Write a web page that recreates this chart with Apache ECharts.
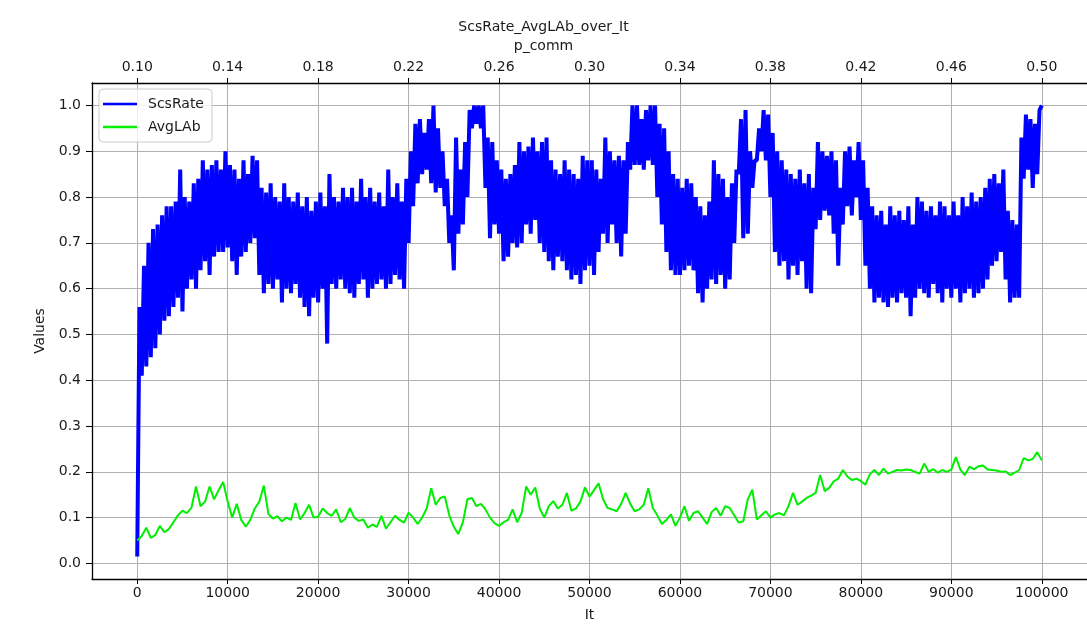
<!DOCTYPE html>
<html>
<head>
<meta charset="utf-8">
<script src="https://cdn.jsdelivr.net/npm/echarts@6/dist/echarts.min.js"></script>
<style>
html,body{margin:0;padding:0;background:#fff;}
#c{width:1087px;height:627px;}
</style>
</head>
<body>
<div id="c"></div>
<script>
// Sampling step of the series along "It"
const STEP = 500;

// ScsRate is very noisy: its lower envelope is read every 500 iterations (It 0 .. 100000)
// and its upper envelope half-way between (It 250 .. 99750); the line alternates between them.
const scsRateLow = [
  0.015, 0.41, 0.43, 0.45, 0.47, 0.50, 0.53, 0.54, 0.56, 0.58, 0.55, 0.60, 0.62, 0.60, 0.64, 0.66, 0.63, 0.67, 0.68, 0.68,
  0.69, 0.66, 0.63, 0.67, 0.68, 0.70, 0.71, 0.63, 0.59, 0.61, 0.60, 0.62, 0.57, 0.60, 0.59, 0.61, 0.58, 0.56, 0.54, 0.58,
  0.57, 0.60, 0.48, 0.61, 0.60, 0.62, 0.60, 0.59, 0.58, 0.61, 0.62, 0.58, 0.60, 0.61, 0.62, 0.60, 0.61, 0.63, 0.62, 0.60,
  0.70, 0.78, 0.83, 0.85, 0.86, 0.83, 0.81, 0.82, 0.78, 0.70, 0.64, 0.72, 0.74, 0.80, 0.95, 0.96, 0.95, 0.82, 0.71, 0.74,
  0.72, 0.66, 0.67, 0.70, 0.69, 0.70, 0.74, 0.72, 0.75, 0.70, 0.68, 0.66, 0.64, 0.67, 0.66, 0.64, 0.62, 0.63, 0.61, 0.64,
  0.65, 0.63, 0.68, 0.72, 0.70, 0.74, 0.70, 0.67, 0.72, 0.86, 0.87, 0.87, 0.86, 0.88, 0.87, 0.80, 0.74, 0.68, 0.64, 0.63,
  0.63, 0.64, 0.65, 0.64, 0.59, 0.57, 0.60, 0.62, 0.61, 0.63, 0.60, 0.62, 0.70, 0.85, 0.71, 0.72, 0.82, 0.88, 0.90, 0.88,
  0.80, 0.68, 0.65, 0.66, 0.62, 0.65, 0.63, 0.66, 0.60, 0.59, 0.73, 0.75, 0.77, 0.76, 0.72, 0.65, 0.74, 0.78, 0.76, 0.80,
  0.75, 0.65, 0.60, 0.57, 0.58, 0.57, 0.56, 0.58, 0.57, 0.59, 0.58, 0.54, 0.58, 0.60, 0.59, 0.58, 0.61, 0.59, 0.57, 0.60,
  0.58, 0.60, 0.57, 0.59, 0.60, 0.58, 0.59, 0.60, 0.62, 0.65, 0.66, 0.68, 0.62, 0.57, 0.58, 0.58, 0.84, 0.86, 0.82, 0.85,
  1.00
];
const scsRateHigh = [
  0.56, 0.65, 0.70, 0.73, 0.74, 0.76, 0.78, 0.78, 0.79, 0.86, 0.80, 0.79, 0.83, 0.84, 0.88, 0.86, 0.87, 0.88, 0.86, 0.90,
  0.87, 0.86, 0.84, 0.88, 0.85, 0.89, 0.88, 0.82, 0.81, 0.83, 0.80, 0.79, 0.83, 0.80, 0.79, 0.81, 0.78, 0.80, 0.77, 0.79,
  0.81, 0.78, 0.85, 0.80, 0.79, 0.82, 0.80, 0.82, 0.79, 0.84, 0.80, 0.82, 0.79, 0.81, 0.78, 0.86, 0.80, 0.83, 0.79, 0.84,
  0.90, 0.96, 0.97, 0.94, 0.97, 1.00, 0.95, 0.90, 0.84, 0.76, 0.93, 0.86, 0.92, 0.99, 1.00, 1.00, 1.00, 0.93, 0.92, 0.88,
  0.86, 0.84, 0.85, 0.87, 0.92, 0.90, 0.91, 0.93, 0.90, 0.92, 0.93, 0.88, 0.86, 0.85, 0.88, 0.86, 0.85, 0.84, 0.89, 0.88,
  0.88, 0.86, 0.84, 0.93, 0.90, 0.88, 0.89, 0.88, 0.92, 1.00, 1.00, 0.97, 0.99, 1.00, 1.00, 0.96, 0.95, 0.90, 0.85, 0.84,
  0.82, 0.84, 0.83, 0.80, 0.78, 0.76, 0.79, 0.88, 0.85, 0.84, 0.80, 0.83, 0.86, 0.97, 0.99, 0.90, 0.88, 0.95, 0.99, 0.98,
  0.94, 0.90, 0.88, 0.86, 0.85, 0.84, 0.86, 0.83, 0.85, 0.82, 0.92, 0.90, 0.89, 0.90, 0.88, 0.82, 0.90, 0.91, 0.88, 0.92,
  0.88, 0.82, 0.78, 0.76, 0.77, 0.74, 0.78, 0.76, 0.77, 0.75, 0.78, 0.74, 0.80, 0.79, 0.77, 0.78, 0.76, 0.79, 0.78, 0.76,
  0.79, 0.76, 0.80, 0.78, 0.81, 0.79, 0.80, 0.82, 0.84, 0.85, 0.83, 0.86, 0.77, 0.75, 0.74, 0.93, 0.98, 0.97, 0.96, 0.99
];

// AvgLAb, read every 500 iterations (It 0 .. 100000)
const avgLAb = [
  0.050, 0.060, 0.078, 0.056, 0.062, 0.082, 0.068, 0.075, 0.090, 0.105, 0.115, 0.110, 0.122, 0.168, 0.125, 0.135, 0.168, 0.140, 0.160, 0.178,
  0.135, 0.100, 0.130, 0.095, 0.080, 0.095, 0.120, 0.135, 0.170, 0.108, 0.098, 0.103, 0.092, 0.100, 0.095, 0.132, 0.096, 0.110, 0.128, 0.100,
  0.102, 0.120, 0.110, 0.104, 0.118, 0.090, 0.097, 0.121, 0.100, 0.093, 0.096, 0.078, 0.085, 0.080, 0.104, 0.076, 0.090, 0.104, 0.095, 0.089,
  0.111, 0.100, 0.086, 0.100, 0.120, 0.164, 0.128, 0.143, 0.146, 0.105, 0.080, 0.064, 0.090, 0.140, 0.143, 0.125, 0.130, 0.118, 0.100, 0.088,
  0.082, 0.090, 0.095, 0.118, 0.090, 0.110, 0.168, 0.150, 0.166, 0.120, 0.100, 0.125, 0.136, 0.120, 0.128, 0.154, 0.115, 0.120, 0.135, 0.166,
  0.146, 0.160, 0.175, 0.140, 0.121, 0.118, 0.114, 0.130, 0.154, 0.130, 0.114, 0.118, 0.128, 0.164, 0.121, 0.105, 0.086, 0.095, 0.107, 0.082,
  0.100, 0.125, 0.093, 0.110, 0.114, 0.100, 0.086, 0.112, 0.121, 0.104, 0.125, 0.121, 0.105, 0.089, 0.092, 0.140, 0.161, 0.096, 0.105, 0.114,
  0.100, 0.107, 0.110, 0.105, 0.125, 0.154, 0.128, 0.135, 0.143, 0.148, 0.154, 0.193, 0.158, 0.165, 0.179, 0.185, 0.204, 0.190, 0.182, 0.185,
  0.180, 0.172, 0.195, 0.204, 0.193, 0.207, 0.196, 0.200, 0.204, 0.203, 0.205, 0.204, 0.200, 0.196, 0.218, 0.200, 0.206, 0.198, 0.204, 0.200,
  0.205, 0.232, 0.205, 0.193, 0.211, 0.206, 0.212, 0.214, 0.205, 0.204, 0.203, 0.200, 0.201, 0.193, 0.198, 0.204, 0.230, 0.225, 0.228, 0.243,
  0.225
];

// Tick labels
const itTicks = [0, 10000, 20000, 30000, 40000, 50000, 60000, 70000, 80000, 90000, 100000];
const pCommTicks = [0.10, 0.14, 0.18, 0.22, 0.26, 0.30, 0.34, 0.38, 0.42, 0.46, 0.50];
const valueTicks = [0.0, 0.1, 0.2, 0.3, 0.4, 0.5, 0.6, 0.7, 0.8, 0.9, 1.0];

// Build the ScsRate line: low points at It = i*STEP, high points at It = i*STEP + STEP/2
const scsRatePoints = [];
scsRateLow.forEach((v, i) => {
  scsRatePoints.push([i * STEP, v]);
  if (i < scsRateHigh.length) scsRatePoints.push([i * STEP + STEP / 2, scsRateHigh[i]]);
});
const avgLAbPoints = avgLAb.map((v, i) => [i * STEP, v]);

const FONT = 'DejaVu Sans';
const TXT = '#1a1a1a';
const GRID = '#b0b0b0';

const chart = echarts.init(document.getElementById('c'), null, {renderer: 'canvas'});

const baseText = {fontFamily: FONT, fontSize: 14, color: TXT};

chart.setOption({
  animation: false,
  backgroundColor: '#ffffff',
  textStyle: {fontFamily: FONT},
  title: [
    {text: 'ScsRate_AvgLAb_over_It', left: 'center', top: 20, padding: 0,
     textStyle: Object.assign({fontWeight: 'normal'}, baseText)},
    {text: 'p_comm', left: 'center', top: 39, padding: 0,
     textStyle: Object.assign({fontWeight: 'normal'}, baseText)}
  ],
  legend: {
    orient: 'vertical', left: 99, top: 89,
    padding: [7, 8, 7, 4],
    icon: 'rect',
    itemWidth: 34, itemHeight: 2.5, itemGap: 7,
    backgroundColor: 'rgba(255,255,255,0.8)',
    borderColor: '#cccccc', borderWidth: 1, borderRadius: 4,
    textStyle: Object.assign({padding: [0, 0, 0, 6], lineHeight: 16}, baseText),
    data: ['ScsRate', 'AvgLAb']
  },
  grid: {left: 92, top: 83, width: 996, height: 504, containLabel: false},
  xAxis: [
    {
      type: 'value', position: 'bottom', min: -5000, max: 105000,
      name: 'It', nameLocation: 'middle', nameGap: 29, nameTextStyle: baseText,
      axisLine: {show: true, onZero: false, lineStyle: {color: '#000', width: 1.3}},
      axisTick: {show: true, customValues: itTicks, length: 5, lineStyle: {color: '#000', width: 1}},
      axisLabel: {customValues: itTicks, margin: 7, fontFamily: FONT, fontSize: 14, color: TXT,
                  formatter: v => String(v)},
      splitLine: {show: true, lineStyle: {color: GRID, width: 1}}
    },
    {
      type: 'value', position: 'top', min: 0.08, max: 0.52,
      axisLine: {show: true, onZero: false, lineStyle: {color: '#000', width: 1.3}},
      axisTick: {show: true, customValues: pCommTicks, length: 5, lineStyle: {color: '#000', width: 1}},
      axisLabel: {customValues: pCommTicks, margin: 9, fontFamily: FONT, fontSize: 14, color: TXT,
                  formatter: v => v.toFixed(2)},
      splitLine: {show: false}
    }
  ],
  yAxis: {
    type: 'value', min: -0.034, max: 1.049,
    name: 'Values', nameLocation: 'middle', nameGap: 42, nameRotate: 90, nameTextStyle: baseText,
    axisLine: {show: true, onZero: false, lineStyle: {color: '#000', width: 1.3}},
    axisTick: {show: true, customValues: valueTicks, length: 6, lineStyle: {color: '#000', width: 1}},
    axisLabel: {customValues: valueTicks, margin: 11, fontFamily: FONT, fontSize: 14, color: TXT,
                formatter: v => v.toFixed(1)},
    splitLine: {show: true, lineStyle: {color: GRID, width: 1}}
  },
  series: [
    {
      name: 'ScsRate', type: 'line', xAxisIndex: 0, yAxisIndex: 0,
      data: scsRatePoints,
      symbol: 'none',
      lineStyle: {color: '#0000ff', width: 4, join: 'bevel'},
      itemStyle: {color: '#0000ff'}
    },
    {
      name: 'AvgLAb', type: 'line', xAxisIndex: 0, yAxisIndex: 0,
      data: avgLAbPoints,
      symbol: 'none',
      lineStyle: {color: '#00ee00', width: 2},
      itemStyle: {color: '#00ee00'}
    }
  ]
});
</script>
</body>
</html>
